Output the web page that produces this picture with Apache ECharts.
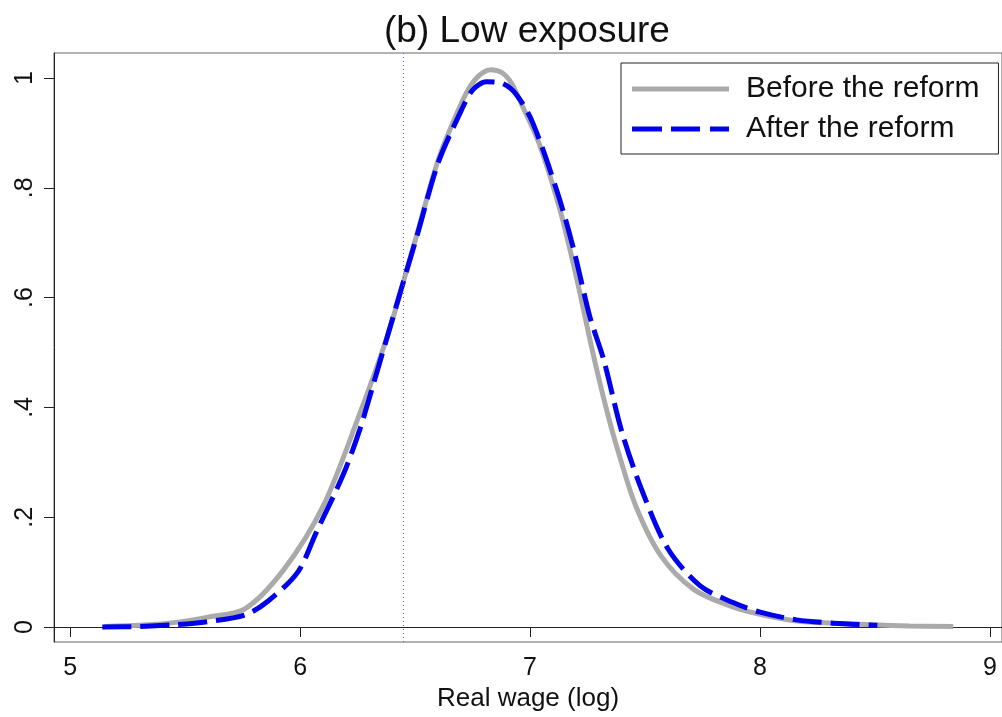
<!DOCTYPE html>
<html>
<head>
<meta charset="utf-8">
<script src="https://cdn.jsdelivr.net/npm/echarts@6/dist/echarts.min.js"></script>
<style>
  html, body { margin: 0; padding: 0; background: #fff; }
  #main { width: 1002px; height: 717px; }
</style>
</head>
<body>
<div id="main"></div>
<script>
// before the reform (grey)
var beforeX = [5.15, 5.3, 5.45, 5.6, 5.76, 5.93, 6.1, 6.25, 6.38, 6.45, 6.51, 6.6, 6.67, 6.73, 6.78, 6.83, 6.88, 6.92, 6.96, 7.04, 7.13, 7.2, 7.27, 7.33, 7.38, 7.46, 7.57, 7.71, 7.86, 7.99, 8.16, 8.32, 8.49, 8.65, 8.84]
var beforeY = [0.001, 0.003, 0.008, 0.018, 0.033, 0.105, 0.22, 0.378, 0.53, 0.63, 0.718, 0.85, 0.924, 0.978, 1.005, 1.015, 1.009, 0.99, 0.955, 0.88, 0.76, 0.64, 0.505, 0.4, 0.324, 0.22, 0.129, 0.069, 0.04, 0.024, 0.011, 0.007, 0.004, 0.002, 0.001]
// after the reform (blue dashed)
var afterX = [5.14, 5.3, 5.45, 5.6, 5.76, 5.86, 5.99, 6.07, 6.19, 6.26, 6.31, 6.38, 6.45, 6.51, 6.6, 6.7, 6.75, 6.81, 6.88, 6.94, 7.01, 7.12, 7.19, 7.26, 7.32, 7.4, 7.49, 7.6, 7.74, 7.88, 8.0, 8.16, 8.32, 8.51]
var afterY = [0, 0.001, 0.004, 0.01, 0.022, 0.047, 0.1, 0.172, 0.28, 0.36, 0.43, 0.53, 0.63, 0.715, 0.845, 0.94, 0.978, 0.993, 0.99, 0.97, 0.92, 0.79, 0.687, 0.565, 0.487, 0.354, 0.245, 0.142, 0.075, 0.045, 0.027, 0.013, 0.007, 0.003]

var xTicks = [5, 6, 7, 8, 9]
var yTicks = [0, 0.2, 0.4, 0.6, 0.8, 1]
var cutoff = 6.45

var pairs = (xs, ys) => xs.map((x, i) => [x, ys[i]])

var font = 'Liberation Sans, Arial, sans-serif'
var chart = echarts.init(document.querySelector('#main'))

// legend samples: solid bar and three dashes
var solidIcon = 'path://M0 0H97V5H0Z'
var dashIcon = 'path://M0 0H30V5H0ZM39 0H68V5H39ZM78 0H97V5H78Z'

var option = {
    animation: false,
    title: {
        text: '(b) Low exposure',
        left: 379,
        top: 8,
        textStyle: { fontFamily: font, fontSize: 37, fontWeight: 'normal', color: '#111' }
    },
    legend: {
        left: 621,
        top: 63,
        orient: 'vertical',
        padding: [11, 19, 10, 11],
        itemWidth: 97,
        itemHeight: 5,
        itemGap: 10,
        borderColor: '#222',
        borderWidth: 1,
        textStyle: { fontFamily: font, fontSize: 30, lineHeight: 30, color: '#111', padding: [0, 0, 0, 12] },
        data: [
            { name: 'Before the reform', icon: solidIcon, itemStyle: { color: '#aaaaaa' } },
            { name: 'After the reform', icon: dashIcon, itemStyle: { color: '#0000ee' } }
        ]
    },
    grid: {
        left: 54, top: 53, right: 0, bottom: 74,
        show: true, borderColor: '#666', borderWidth: 1
    },
    xAxis: {
        type: 'value',
        min: 4.930,
        max: 9.052,
        name: 'Real wage (log)',
        nameLocation: 'middle',
        nameGap: 44,
        nameTextStyle: { fontFamily: font, fontSize: 26, color: '#111' },
        splitLine: { show: false },
        axisLine: { lineStyle: { color: '#222', width: 1 } },
        axisTick: { length: 10, customValues: xTicks, lineStyle: { color: '#222' } },
        axisLabel: { customValues: xTicks, margin: 14, fontFamily: font, fontSize: 25, color: '#111' }
    },
    yAxis: {
        type: 'value',
        min: -0.0273,
        max: 1.0455,
        splitLine: { show: false },
        axisLine: { show: true, lineStyle: { color: '#222', width: 1 } },
        axisTick: { show: true, length: 10, customValues: yTicks, lineStyle: { color: '#222' } },
        axisLabel: {
            customValues: yTicks, rotate: 90, margin: 16,
            fontFamily: font, fontSize: 25, color: '#111',
            formatter: (v) => v === 0 ? '0' : v === 1 ? '1' : String(v).replace(/^0/, '')
        }
    },
    series: [
        {
            name: 'Before the reform',
            type: 'line',
            data: pairs(beforeX, beforeY),
            symbol: 'none',
            smooth: 0.3,
            lineStyle: { color: '#aaaaaa', width: 5 },
            itemStyle: { color: '#aaaaaa' },
            markLine: {
                silent: true,
                symbol: 'none',
                label: { show: false },
                lineStyle: { color: '#5c5ce0', width: 1, type: [1, 3] },
                data: [{ xAxis: cutoff }]
            }
        },
        {
            name: 'After the reform',
            type: 'line',
            data: pairs(afterX, afterY),
            symbol: 'none',
            smooth: 0.3,
            lineStyle: { color: '#0000ee', width: 5, type: [29, 9] },
            itemStyle: { color: '#0000ee' }
        }
    ]
}

chart.setOption(option)
</script>
</body>
</html>
